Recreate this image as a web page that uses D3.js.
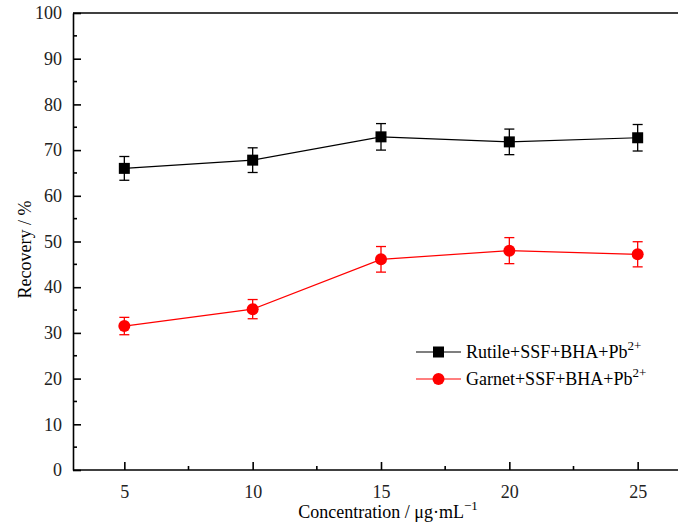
<!DOCTYPE html>
<html>
<head>
<meta charset="utf-8">
<script src="https://cdn.jsdelivr.net/npm/d3@7"></script>
<style>
  html, body { margin: 0; padding: 0; background: #fff; }
  svg { display: block; }
  svg text { font-family: "Liberation Serif", "Times New Roman", "DejaVu Serif", serif; }
</style>
</head>
<body>
<svg id="chart" width="678" height="522"></svg>
<script>
// Flotation recovery vs. collector concentration
const concentrations = [5, 10, 15, 20, 25];
const rutileRecovery = [66.0, 67.8, 72.9, 71.8, 72.7];
const rutileError    = [2.6, 2.7, 2.9, 2.8, 2.9];
const garnetRecovery = [31.5, 35.2, 46.1, 48.0, 47.2];
const garnetError    = [1.9, 2.1, 2.8, 2.85, 2.75];
const xTicks = [5, 10, 15, 20, 25];
const yTicks = [0, 10, 20, 30, 40, 50, 60, 70, 80, 90, 100];

const series = [
  { name: "Rutile+SSF+BHA+Pb", values: rutileRecovery, errors: rutileError, color: "#000000", marker: "square" },
  { name: "Garnet+SSF+BHA+Pb", values: garnetRecovery, errors: garnetError, color: "#ff0000", marker: "circle" }
];

const svg = d3.select("#chart");
const x = d3.scaleLinear().domain([3, 27]).range([73, 689]);
const y = d3.scaleLinear().domain([0, 100]).range([470, 13]);

// Axes frame: left and bottom with inward ticks, plain top line
const g = svg.append("g");
g.append("line").attr("x1", 73).attr("x2", 678).attr("y1", y(100)).attr("y2", y(100))
  .attr("stroke", "#000").attr("stroke-width", 1.6);

const xAxis = d3.axisBottom(x).tickValues(xTicks).tickSize(-8).tickPadding(15).tickSizeOuter(0);
const xg = g.append("g").attr("transform", `translate(0,${y(0)})`).call(xAxis);
const yAxis = d3.axisLeft(y).tickValues(yTicks).tickSize(-8).tickPadding(11).tickSizeOuter(0);
const yg = g.append("g").attr("transform", `translate(${x(3)},0)`).call(yAxis);

[xg, yg].forEach(ax => {
  ax.attr("font-family", null);
  ax.select(".domain").attr("stroke", "#000").attr("stroke-width", 1.6);
  ax.selectAll(".tick line").attr("stroke", "#000").attr("stroke-width", 1.6);
  ax.selectAll(".tick text").attr("fill", "#222").attr("font-size", 18);
});
xg.select(".domain").attr("d", `M${x(3)},0H678`);

// minor ticks
const xMinor = d3.range(7.5, 27, 5);
g.selectAll(".xminor").data(xMinor).join("line")
  .attr("x1", d => x(d)).attr("x2", d => x(d))
  .attr("y1", y(0)).attr("y2", y(0) - 4)
  .attr("stroke", "#000").attr("stroke-width", 1.6);
const yMinor = d3.range(5, 100, 10);
g.selectAll(".yminor").data(yMinor).join("line")
  .attr("x1", x(3)).attr("x2", x(3) + 4)
  .attr("y1", d => y(d)).attr("y2", d => y(d))
  .attr("stroke", "#000").attr("stroke-width", 1.6);

// axis titles
svg.append("text").attr("transform", `translate(31,${(y(0) + y(100)) / 2 + 8}) rotate(-90)`)
  .attr("text-anchor", "middle").attr("font-size", 18).attr("fill", "#000")
  .text("Recovery / %");
const xt = svg.append("text").attr("x", 388).attr("y", 518)
  .attr("text-anchor", "middle").attr("font-size", 18).attr("fill", "#000");
xt.append("tspan").text("Concentration / μg·mL");
xt.append("tspan").attr("dy", -8).attr("font-size", 13).text("−1");

// series
const line = d3.line().x((d, i) => x(concentrations[i])).y(d => y(d));
series.forEach(s => {
  const sg = svg.append("g");
  sg.append("path").datum(s.values).attr("d", line)
    .attr("fill", "none").attr("stroke", s.color).attr("stroke-width", 1.2);
  // error bars
  const eb = sg.selectAll(".eb").data(s.values).join("g");
  eb.append("line")
    .attr("x1", (d, i) => x(concentrations[i])).attr("x2", (d, i) => x(concentrations[i]))
    .attr("y1", (d, i) => y(d + s.errors[i])).attr("y2", (d, i) => y(d - s.errors[i]))
    .attr("stroke", s.color).attr("stroke-width", 1.3);
  [1, -1].forEach(sign => {
    eb.append("line")
      .attr("x1", (d, i) => x(concentrations[i]) - 5).attr("x2", (d, i) => x(concentrations[i]) + 5)
      .attr("y1", (d, i) => y(d + sign * s.errors[i])).attr("y2", (d, i) => y(d + sign * s.errors[i]))
      .attr("stroke", s.color).attr("stroke-width", 1.3);
  });
  if (s.marker === "square") {
    sg.selectAll(".mk").data(s.values).join("rect")
      .attr("x", (d, i) => x(concentrations[i]) - 5.5).attr("y", d => y(d) - 5.5)
      .attr("width", 11).attr("height", 11).attr("fill", s.color);
  } else {
    sg.selectAll(".mk").data(s.values).join("circle")
      .attr("cx", (d, i) => x(concentrations[i])).attr("cy", d => y(d))
      .attr("r", 6).attr("fill", s.color);
  }
});

// legend
const legend = svg.append("g");
series.forEach((s, i) => {
  const ly = 352 + i * 27;
  legend.append("line").attr("x1", 416).attr("x2", 461).attr("y1", ly).attr("y2", ly)
    .attr("stroke", s.color).attr("stroke-width", 1.2);
  if (s.marker === "square") {
    legend.append("rect").attr("x", 438.5 - 5.5).attr("y", ly - 5.5).attr("width", 11).attr("height", 11).attr("fill", s.color);
  } else {
    legend.append("circle").attr("cx", 438.5).attr("cy", ly).attr("r", 6).attr("fill", s.color);
  }
  const t = legend.append("text").attr("x", 466).attr("y", ly + 6).attr("font-size", 18).attr("fill", "#000");
  t.append("tspan").text(s.name);
  t.append("tspan").attr("dy", -8).attr("font-size", 13).text("2+");
});
</script>
</body>
</html>
